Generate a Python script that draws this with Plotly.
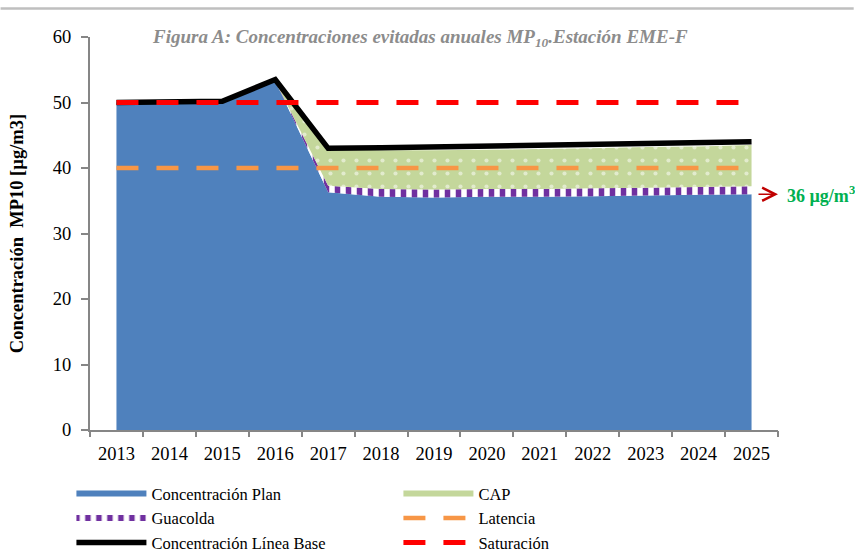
import plotly.graph_objects as go

YEARS = [2013, 2014, 2015, 2016, 2017, 2018, 2019, 2020, 2021, 2022, 2023, 2024, 2025]
PLAN = [50.0, 50.1, 50.1, 53.3, 36.3, 35.6, 35.5, 35.6, 35.6, 35.7, 35.8, 35.9, 36.0]
GUACOLDA = [0, 0, 0, 0, 1.0, 1.2, 1.2, 1.2, 1.2, 1.2, 1.2, 1.2, 1.2]
CAP = [0, 0, 0, 0, 5.6, 5.9, 6.0, 6.0, 6.1, 6.1, 6.2, 6.2, 6.3]
LINEA_BASE = [50.0, 50.2, 50.2, 53.5, 43.0, 43.1, 43.2, 43.3, 43.4, 43.5, 43.6, 43.8, 44.0]
LATENCIA = [40, 40, 40, 40, 40, 40, 40, 40, 40, 40, 40, 40, 40]
SATURACION = [50, 50, 50, 50, 50, 50, 50, 50, 50, 50, 50, 50, 50]
TICK_EDGES = [2012.5 + i for i in range(14)]
ANNOT_VALUE = 36

FONT = "Liberation Serif"
AXIS_GRAY = "#868686"

fig = go.Figure()

fig.add_trace(go.Scatter(
    x=YEARS, y=PLAN, name="Concentración Plan", stackgroup="a", mode="none",
    fillcolor="#4f81bd", legendrank=1))
fig.add_trace(go.Scatter(
    x=YEARS, y=GUACOLDA, name="Guacolda", stackgroup="a", mode="none",
    fillcolor="white",
    fillpattern=dict(shape="|", fgcolor="#7030a0", bgcolor="white", fgopacity=1,
                     size=11, solidity=0.5),
    legendrank=3))
fig.add_trace(go.Scatter(
    x=YEARS, y=CAP, name="CAP", stackgroup="a", mode="none",
    fillcolor="#c4d79b",
    fillpattern=dict(shape=".", fgcolor="white", bgcolor="#c4d79b", size=13, solidity=0.08),
    legendrank=2))
fig.add_trace(go.Scatter(
    x=YEARS, y=LINEA_BASE, name="Concentración Línea Base", mode="lines",
    line=dict(color="black", width=5.5), legendrank=5))
fig.add_trace(go.Scatter(
    x=YEARS, y=LATENCIA, name="Latencia", mode="lines",
    line=dict(color="#f79646", width=4.5, dash="22px,18px"), legendrank=4))
fig.add_trace(go.Scatter(
    x=YEARS, y=SATURACION, name="Saturación", mode="lines",
    line=dict(color="#ff0000", width=5, dash="22px,18px"), legendrank=6))
# invisible trace carrying the tick-mark axis
fig.add_trace(go.Scatter(
    x=TICK_EDGES, y=[0] * len(TICK_EDGES), xaxis="x2", mode="none",
    showlegend=False, hoverinfo="skip"))

fig.update_layout(
    width=855, height=554,
    margin=dict(l=90, r=77, t=37, b=124, autoexpand=False),
    paper_bgcolor="white", plot_bgcolor="white",
    font=dict(family=FONT, size=18, color="black"),
    showlegend=True,
    xaxis=dict(
        range=[2012.5, 2025.5], tickvals=YEARS, ticktext=[str(y) for y in YEARS],
        ticks="", showline=True, linecolor=AXIS_GRAY, linewidth=2, showgrid=False,
        zeroline=False, tickfont=dict(size=18.5, family=FONT), ticklabelstandoff=6,
        automargin=False),
    xaxis2=dict(
        overlaying="x", matches="x", range=[2012.5, 2025.5], tickvals=TICK_EDGES,
        ticks="outside", ticklen=6, tickcolor=AXIS_GRAY, tickwidth=2,
        showticklabels=False, showline=False, showgrid=False, zeroline=False,
        side="bottom", automargin=False),
    yaxis=dict(
        range=[0, 60], dtick=10, ticks="outside", ticklen=7, tickcolor=AXIS_GRAY,
        tickwidth=2, showline=True, linecolor=AXIS_GRAY, linewidth=2,
        showgrid=False, zeroline=False, tickfont=dict(size=18.5, family=FONT),
        ticklabelstandoff=6, automargin=False,
        title=dict(text="<b>Concentración  MP10 [µg/m3]</b>",
                   font=dict(size=18.5, family=FONT), standoff=24)),
    legend=dict(
        orientation="h", x=-0.027, xanchor="left", y=-0.118, yanchor="top",
        entrywidth=242, entrywidthmode="pixels", itemwidth=70,
        traceorder="normal", font=dict(size=16.5, family=FONT),
        tracegroupgap=0, bgcolor="rgba(0,0,0,0)"),
    annotations=[
        dict(text="<b><i>Figura A: Concentraciones evitadas anuales MP<sub>10</sub>.Estación EME-F</i></b>",
             xref="paper", yref="paper", x=0.48, y=0.997, xanchor="center", yanchor="middle",
             showarrow=False, font=dict(size=19, family=FONT, color="#8c8c8c")),
        dict(text="", xref="paper", yref="y", x=1.0, y=ANNOT_VALUE, ax=-21, ay=0,
             showarrow=True, arrowhead=5, arrowsize=1.6,
             arrowwidth=1.6, arrowcolor="#c00000"),
        dict(text="<b>36 µg/m<sup>3</sup></b>", xref="paper", yref="y", x=1.01,
             y=ANNOT_VALUE, xanchor="left", yanchor="middle", showarrow=False,
             font=dict(size=18, family=FONT, color="#00b050")),
    ],
    shapes=[
        dict(type="rect", xref="paper", yref="paper", x0=-0.13, x1=1.11,
             y0=1.0695, y1=1.0755, fillcolor="#bfbfbf", line=dict(width=0),
             layer="above"),
    ],
)

fig.write_html(
    "out.html",
    config={"displayModeBar": False},
    post_script="document.body.style.margin='0';document.body.style.overflow='hidden';",
)
